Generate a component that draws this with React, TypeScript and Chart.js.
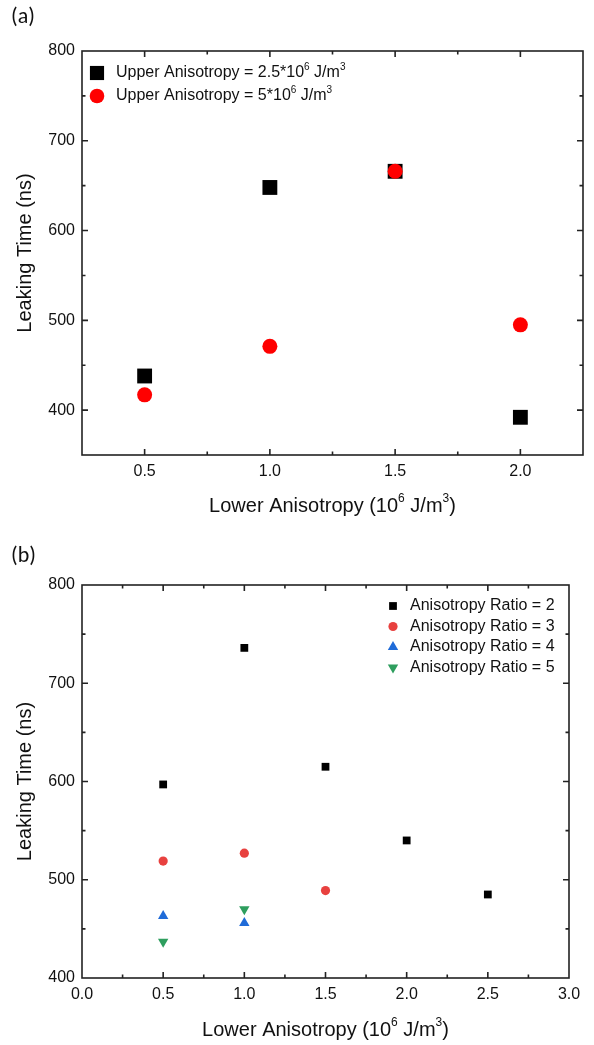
import React, { useEffect, useRef } from 'react';
import { Chart, registerables } from 'chart.js';

Chart.register(...registerables);

// ---------- data ----------
const topX = [0.5, 1.0, 1.5, 2.0];
const topUpper25 = [438, 648, 666, 392];
const topUpper5 = [417, 471, 666, 495];
const topLegend = [
  ['Upper Anisotropy = 2.5*10', '6', ' J/m', '3'],
  ['Upper Anisotropy = 5*10', '6', ' J/m', '3'],
];

const botRatio2X = [0.5, 1.0, 1.5, 2.0, 2.5];
const botRatio2Y = [597, 736, 615, 540, 485];
const botRatio3X = [0.5, 1.0, 1.5];
const botRatio3Y = [519, 527, 489];
const botRatio4X = [0.5, 1.0];
const botRatio4Y = [463, 456];
const botRatio5X = [0.5, 1.0];
const botRatio5Y = [437, 470];
const botLegend = [
  ['Anisotropy Ratio = 2'],
  ['Anisotropy Ratio = 3'],
  ['Anisotropy Ratio = 4'],
  ['Anisotropy Ratio = 5'],
];

const yTitle = 'Leaking Time (ns)';
const xTitleSegs = ['Lower Anisotropy (10', '6', ' J/m', '3', ')'];
const panelLabels = ['(a)', '(b)'];

const FONT = '"Liberation Sans", Arial, sans-serif';
const AXIS = '#222';

function pts(xs: number[], ys: number[]) {
  return xs.map((x, i) => ({ x, y: ys[i] }));
}

function drawMarker(ctx: CanvasRenderingContext2D, style: string, x: number, y: number, r: number, color: string, rot: number) {
  ctx.save();
  ctx.fillStyle = color;
  ctx.beginPath();
  if (style === 'rect') {
    const s = Math.SQRT1_2 * r;
    ctx.rect(x - s, y - s, 2 * s, 2 * s);
  } else if (style === 'circle') {
    ctx.arc(x, y, r, 0, Math.PI * 2);
  } else if (style === 'triangle') {
    const a = (rot * Math.PI) / 180 - Math.PI / 2;
    for (let k = 0; k < 3; k++) {
      const ang = a + (k * 2 * Math.PI) / 3;
      const px = x + Math.cos(ang) * r;
      const py = y + Math.sin(ang) * r;
      if (k === 0) ctx.moveTo(px, py);
      else ctx.lineTo(px, py);
    }
    ctx.closePath();
  }
  ctx.fill();
  ctx.restore();
}

// draws text made of alternating normal / superscript segments
function drawSegs(ctx: CanvasRenderingContext2D, segs: string[], x: number, y: number, size: number, align: 'left' | 'center') {
  const widthOf = () => {
    let w = 0;
    segs.forEach((s, k) => {
      const sup = k % 2 === 1;
      ctx.font = `${sup ? Math.round(size * 0.62) : size}px ${FONT}`;
      w += ctx.measureText(s).width;
    });
    return w;
  };
  let cx = align === 'center' ? x - widthOf() / 2 : x;
  ctx.textAlign = 'left';
  segs.forEach((s, k) => {
    const sup = k % 2 === 1;
    ctx.font = `${sup ? Math.round(size * 0.62) : size}px ${FONT}`;
    ctx.fillText(s, cx, sup ? y - size * 0.36 : y);
    cx += ctx.measureText(s).width;
  });
}

const framePlugin = {
  id: 'frameTicks',
  afterDatasetsDraw(chart: any, _args: any, opts: any) {
    const ctx = chart.ctx as CanvasRenderingContext2D;
    const ca = chart.chartArea;
    ctx.save();
    ctx.strokeStyle = AXIS;
    ctx.lineWidth = 1.6;
    ctx.strokeRect(ca.left, ca.top, ca.right - ca.left, ca.bottom - ca.top);
    const xs = chart.scales.x;
    const ys = chart.scales.y;
    const isMajor = (v: number, step: number) => Math.abs(v / step - Math.round(v / step)) < 1e-6;
    ctx.beginPath();
    xs.ticks.forEach((t: any) => {
      const p = xs.getPixelForValue(t.value);
      if (p <= ca.left + 1 || p >= ca.right - 1) return;
      const len = isMajor(t.value, opts.xMajor) ? 6 : 3.5;
      ctx.moveTo(p, ca.bottom);
      ctx.lineTo(p, ca.bottom - len);
      ctx.moveTo(p, ca.top);
      ctx.lineTo(p, ca.top + len);
    });
    ys.ticks.forEach((t: any) => {
      const p = ys.getPixelForValue(t.value);
      if (p <= ca.top + 1 || p >= ca.bottom - 1) return;
      const len = isMajor(t.value, opts.yMajor) ? 6 : 3.5;
      ctx.moveTo(ca.left, p);
      ctx.lineTo(ca.left + len, p);
      ctx.moveTo(ca.right, p);
      ctx.lineTo(ca.right - len, p);
    });
    ctx.stroke();
    ctx.restore();
  },
  afterDraw(chart: any, _args: any, opts: any) {
    const ctx = chart.ctx as CanvasRenderingContext2D;
    const ca = chart.chartArea;
    ctx.save();
    ctx.textBaseline = 'middle';
    ctx.fillStyle = '#111';
    // x axis title with real superscripts
    drawSegs(ctx, xTitleSegs, (ca.left + ca.right) / 2, ca.bottom + opts.xTitleOffset, 20, 'center');
    const L = opts.legend;
    if (L) {
      L.items.forEach((segs: string[], i: number) => {
        const ds = chart.data.datasets[L.dsIndex[i]];
        const y = L.y + i * L.rowH;
        drawMarker(ctx, ds.pointStyle, L.markerX, y, L.markerR[i], ds.backgroundColor, ds.pointRotation || 0);
        ctx.fillStyle = '#111';
        drawSegs(ctx, segs, L.textX, y, L.size, 'left');
      });
    }
    ctx.restore();
  },
};

function makeScales(o: any) {
  const tickFont = { family: FONT, size: 16 };
  const titleFont = { family: FONT, size: 20 };
  return {
    x: {
      type: 'linear',
      min: o.xMin,
      max: o.xMax,
      grid: { display: false, drawTicks: false },
      border: { display: false },
      ticks: {
        stepSize: o.xStep,
        autoSkip: false,
        maxRotation: 0,
        padding: 7,
        color: '#111',
        font: tickFont,
        callback: (v: number) => (Math.abs(v / o.xMajor - Math.round(v / o.xMajor)) < 1e-6 ? v.toFixed(1) : ''),
      },
      title: { display: false },
      afterFit: (s: any) => {
        s.height = o.xHeight;
      },
    },
    y: {
      type: 'linear',
      min: o.yMin,
      max: o.yMax,
      grid: { display: false, drawTicks: false },
      border: { display: false },
      ticks: {
        stepSize: o.yStep,
        autoSkip: false,
        padding: 7,
        color: '#111',
        font: tickFont,
        callback: (v: number) => (Math.abs(v / o.yMajor - Math.round(v / o.yMajor)) < 1e-6 ? String(v) : ''),
      },
      title: { display: true, text: yTitle, color: '#111', font: titleFont, padding: { top: 13, bottom: 0 } },
      afterFit: (s: any) => {
        s.width = 82;
      },
    },
  };
}

function TopChart() {
  const ref = useRef<HTMLCanvasElement>(null);
  useEffect(() => {
    const chart = new Chart(ref.current as HTMLCanvasElement, {
      type: 'scatter',
      data: {
        datasets: [
          { label: topLegend[0].join(''), data: pts(topX, topUpper25), pointStyle: 'rect', pointRadius: 10.5, backgroundColor: '#000000', borderWidth: 0, order: 1 } as any,
          { label: topLegend[1].join(''), data: pts(topX, topUpper5), pointStyle: 'circle', pointRadius: 7.5, backgroundColor: '#ff0000', borderWidth: 0, order: 0 } as any,
        ],
      },
      options: {
        responsive: false,
        animation: false,
        layout: { padding: { top: 51, right: 11, left: 0, bottom: 0 } },
        scales: makeScales({ xMin: 0.25, xMax: 2.25, xStep: 0.25, xMajor: 0.5, yMin: 350, yMax: 800, yStep: 50, yMajor: 100, xHeight: 75 }) as any,
        plugins: {
          legend: { display: false },
          tooltip: { enabled: false },
          frameTicks: {
            xMajor: 0.5,
            yMajor: 100,
            xTitleOffset: 51,
            legend: { items: topLegend, dsIndex: [0, 1], markerX: 97, markerR: [10, 7.3], textX: 116, y: 73, rowH: 23, size: 16 },
          },
        } as any,
      },
      plugins: [framePlugin as any],
    });
    return () => chart.destroy();
  }, []);
  return <canvas ref={ref} width={594} height={530} style={{ display: 'block' }} />;
}

function BottomChart() {
  const ref = useRef<HTMLCanvasElement>(null);
  useEffect(() => {
    const chart = new Chart(ref.current as HTMLCanvasElement, {
      type: 'scatter',
      data: {
        datasets: [
          { label: botLegend[0][0], data: pts(botRatio2X, botRatio2Y), pointStyle: 'rect', pointRadius: 5.5, backgroundColor: '#000000', borderWidth: 0 } as any,
          { label: botLegend[1][0], data: pts(botRatio3X, botRatio3Y), pointStyle: 'circle', pointRadius: 4.6, backgroundColor: '#e8413f', borderWidth: 0 } as any,
          { label: botLegend[2][0], data: pts(botRatio4X, botRatio4Y), pointStyle: 'triangle', pointRadius: 6, backgroundColor: '#1f6bd8', borderWidth: 0 } as any,
          { label: botLegend[3][0], data: pts(botRatio5X, botRatio5Y), pointStyle: 'triangle', pointRotation: 180, pointRadius: 6, backgroundColor: '#2e9e5e', borderWidth: 0 } as any,
        ],
      },
      options: {
        responsive: false,
        animation: false,
        layout: { padding: { top: 55, right: 25, left: 0, bottom: 0 } },
        scales: makeScales({ xMin: 0, xMax: 3, xStep: 0.25, xMajor: 0.5, yMin: 400, yMax: 800, yStep: 50, yMajor: 100, xHeight: 67 }) as any,
        plugins: {
          legend: { display: false },
          tooltip: { enabled: false },
          frameTicks: {
            xMajor: 0.5,
            yMajor: 100,
            xTitleOffset: 52,
            legend: { items: botLegend, dsIndex: [0, 1, 2, 3], markerX: 393, markerR: [5.5, 4.6, 6, 6], textX: 410, y: 76, rowH: 20.5, size: 16 },
          },
        } as any,
      },
      plugins: [framePlugin as any],
    });
    return () => chart.destroy();
  }, []);
  return <canvas ref={ref} width={594} height={515} style={{ display: 'block' }} />;
}

export default function App() {
  const panelStyle: React.CSSProperties = {
    position: 'absolute',
    left: 11,
    fontFamily: 'Carlito, "Open Sans", sans-serif',
    fontSize: 22,
    lineHeight: '26px',
    color: '#111',
  };
  return (
    <div style={{ position: 'absolute', left: 0, top: 0, width: 594, height: 1045, background: '#fff' }}>
      <div style={{ position: 'absolute', left: 0, top: 0 }}>
        <TopChart />
      </div>
      <div style={{ position: 'absolute', left: 0, top: 530 }}>
        <BottomChart />
      </div>
      <div style={{ ...panelStyle, top: 3 }}>{panelLabels[0]}</div>
      <div style={{ ...panelStyle, top: 542 }}>{panelLabels[1]}</div>
    </div>
  );
}
